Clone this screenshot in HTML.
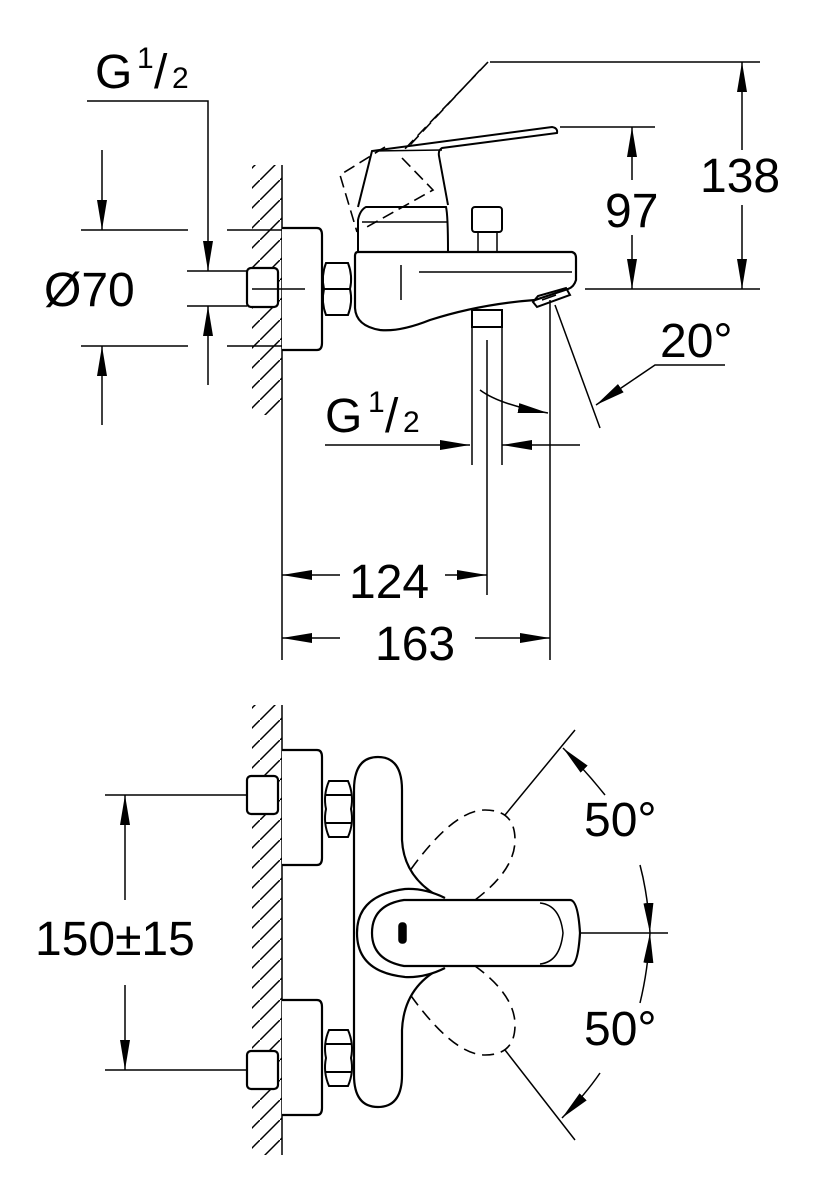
<!DOCTYPE html>
<html><head><meta charset="utf-8"><style>
html,body{margin:0;padding:0;background:#fff;}
svg{display:block;}
text{font-family:"Liberation Sans",sans-serif;fill:#000;}
</style></head><body>
<svg width="823" height="1200" viewBox="0 0 823 1200" xmlns="http://www.w3.org/2000/svg">
<defs>
<marker id="b" viewBox="0 0 30 10" refX="30" refY="5" markerWidth="30" markerHeight="10" markerUnits="userSpaceOnUse" orient="auto-start-reverse"><path d="M0,0 L30,5 L0,10 z" fill="#000"/></marker>
<pattern id="h" width="20" height="20" patternUnits="userSpaceOnUse"><path d="M0,20 L20,0" stroke="#000" stroke-width="1.5"/></pattern>
</defs>
<g fill="none" stroke="#000" stroke-width="1.5">
<!-- TOP VIEW -->
<rect x="252" y="165" width="30" height="250" fill="url(#h)" stroke="none"/>
<line x1="282" y1="165" x2="282" y2="660"/>
<line x1="81" y1="230" x2="188" y2="230"/><line x1="227" y1="230" x2="282" y2="230"/>
<line x1="81" y1="346" x2="188" y2="346"/><line x1="227" y1="346" x2="282" y2="346"/>
<line x1="187" y1="271" x2="247" y2="271"/><line x1="187" y1="306" x2="247" y2="306"/>
<line x1="102" y1="150" x2="102" y2="230" marker-end="url(#b)"/>
<line x1="102" y1="425" x2="102" y2="346" marker-end="url(#b)"/>
<polyline points="87,101 208,101 208,271" marker-end="url(#b)"/>
<line x1="208" y1="385" x2="208" y2="306" marker-end="url(#b)"/>
<path d="M282,228 H317 Q322,228 322,235 V343 Q322,350 317,350 H282" stroke-width="2.2" fill="#fff"/>
<rect x="247" y="268" width="31" height="39" rx="4" stroke-width="2.2" fill="#fff"/>
<line x1="252" y1="289" x2="305" y2="289"/>
<path d="M326,263 H348 Q353,276 350,289 Q353,302 348,315 H326 Q321,302 324,289 Q321,276 326,263 Z M324,289 H350" stroke-width="2"/>
<path d="M358,252 H572 Q576,253 576,258 V280 Q574,287 568,289 L535,300 Q480,304 430,320 Q400,332 380,330 Q356,326 355,308 V256 Q355,252 358,252 Z" stroke-width="2.2"/>
<line x1="419" y1="272" x2="572" y2="272"/><line x1="401" y1="265" x2="401" y2="300"/>
<path d="M533,302 L538,296 L566,288 L570,295 L537,307 Z" stroke-width="2"/>
<line x1="542" y1="300" x2="556" y2="295"/>
<path d="M358,252 V220 Q360,210 366,207 H446 Q448,215 448,252" stroke-width="2"/>
<line x1="362" y1="222" x2="447" y2="222"/>
<path d="M358,207 L372,151 L552,127 Q558,128 557,133 L442,148 Q438,150 439,156 L448,205" stroke-width="2"/>
<line x1="372" y1="151" x2="442" y2="150"/>
<g stroke-dasharray="12,6" stroke-width="1.6">
<path d="M488,62 L402,152 M480,70 L410,145 M385,147 L340,175 L357,232 M402,158 L433,190 L365,228"/>
</g>
<rect x="472" y="207" width="30" height="25" rx="3" stroke-width="2"/>
<rect x="478" y="232" width="19" height="20"/>
<rect x="472" y="310" width="30" height="17" stroke-width="2"/>
<line x1="472" y1="327" x2="472" y2="465"/><line x1="502" y1="327" x2="502" y2="465"/>
<line x1="487" y1="340" x2="487" y2="595"/>
<line x1="550" y1="300" x2="550" y2="660"/>
<line x1="490" y1="62" x2="760" y2="62"/>
<line x1="585" y1="289" x2="760" y2="289"/>
<line x1="560" y1="127" x2="655" y2="127"/>
<line x1="742" y1="150" x2="742" y2="62" marker-end="url(#b)"/>
<line x1="742" y1="205" x2="742" y2="289" marker-end="url(#b)"/>
<line x1="632" y1="180" x2="632" y2="127" marker-end="url(#b)"/>
<line x1="632" y1="235" x2="632" y2="289" marker-end="url(#b)"/>
<line x1="555" y1="305" x2="600" y2="428"/>
<polyline points="725,365 655,365 596,405" marker-end="url(#b)"/>
<path d="M480,390 Q500,405 548,413" marker-end="url(#b)"/>
<line x1="325" y1="445" x2="470" y2="445" marker-end="url(#b)"/>
<line x1="580" y1="445" x2="502" y2="445" marker-end="url(#b)"/>
<line x1="340" y1="575" x2="282" y2="575" marker-end="url(#b)"/>
<line x1="445" y1="575" x2="487" y2="575" marker-end="url(#b)"/>
<line x1="340" y1="638" x2="282" y2="638" marker-end="url(#b)"/>
<line x1="475" y1="638" x2="550" y2="638" marker-end="url(#b)"/>

<!-- BOTTOM VIEW -->
<rect x="252" y="705" width="30" height="450" fill="url(#h)" stroke="none"/>
<line x1="282" y1="705" x2="282" y2="1155"/>
<path d="M282,750 H317 Q322,750 322,757 V858 Q322,865 317,865 H282" stroke-width="2.2" fill="#fff"/>
<path d="M282,1000 H317 Q322,1000 322,1007 V1108 Q322,1115 317,1115 H282" stroke-width="2.2" fill="#fff"/>
<rect x="247" y="776" width="31" height="38" rx="4" stroke-width="2.2" fill="#fff"/>
<rect x="247" y="1051" width="31" height="38" rx="4" stroke-width="2.2" fill="#fff"/>
<line x1="105" y1="795" x2="247" y2="795"/><line x1="105" y1="1070" x2="247" y2="1070"/>
<line x1="125" y1="900" x2="125" y2="795" marker-end="url(#b)"/>
<line x1="125" y1="985" x2="125" y2="1070" marker-end="url(#b)"/>
<path d="M329,781 H348 Q354,795 351,809 Q354,823 348,837 H329 Q323,823 326,809 Q323,795 329,781 Z M326,795 H351 M326,823 H351" stroke-width="2"/>
<path d="M329,1030 H348 Q354,1044 351,1058 Q354,1072 348,1086 H329 Q323,1072 326,1058 Q323,1044 329,1030 Z M326,1044 H351 M326,1072 H351" stroke-width="2"/>
<g stroke-dasharray="12,7" stroke-width="1.6">
<path d="M400,885 Q450,810 485,810 Q515,810 515,840 Q515,870 475,900"/>
<path d="M400,980 Q450,1055 485,1055 Q515,1055 515,1025 Q515,995 475,966"/>
</g>
<path d="M378,757 Q402,757 402,790 V840 Q404,880 445,900 L445,966 Q404,985 402,1030 V1075 Q402,1107 378,1107 Q354,1107 354,1075 V790 Q354,757 378,757 Z" stroke-width="2.2" fill="#fff"/>
<path d="M445,898 Q425,888 405,889 Q357,895 357,933 Q357,972 405,977 Q425,978 445,968" stroke-width="2.2" fill="#fff"/>
<path d="M404,900 H570 Q578,900 580,933 Q578,966 570,966 H404 Q372,960 372,933 Q372,905 404,900 Z" stroke-width="2.2" fill="#fff"/>
<path d="M540,903 Q560,905 563,933 Q560,962 540,964" stroke-width="1.5"/>
<rect x="399" y="923" width="7" height="20" rx="3" fill="#000"/>
<line x1="505" y1="815" x2="575" y2="730"/>
<line x1="505" y1="1050" x2="575" y2="1140"/>
<line x1="580" y1="933" x2="668" y2="933"/>
<path d="M605,795 Q585,770 563,748" marker-end="url(#b)"/>
<path d="M640,865 Q648,895 650,933" marker-end="url(#b)"/>
<path d="M640,1003 Q648,970 650,933" marker-end="url(#b)"/>
<path d="M600,1073 Q585,1095 562,1118" marker-end="url(#b)"/>
</g>
<rect x="700" y="150" width="85" height="55" fill="#fff"/>
<rect x="598" y="180" width="70" height="55" fill="#fff"/>
<g font-size="48">
<text x="95" y="88">G</text><text x="137" y="68" font-size="30">1</text><text x="154" y="88">/</text><text x="172" y="88" font-size="30">2</text>
<text x="44" y="306">Ø70</text>
<text x="700" y="192">138</text>
<text x="605" y="227">97</text>
<text x="660" y="357">20°</text>
<text x="325" y="432">G</text><text x="368" y="412" font-size="30">1</text><text x="385" y="432">/</text><text x="403" y="432" font-size="30">2</text>
<text x="349" y="598">124</text>
<text x="375" y="660">163</text>
<text x="35" y="955">150±15</text>
<text x="584" y="836">50°</text>
<text x="584" y="1045">50°</text>
</g>
</svg>
</body></html>
